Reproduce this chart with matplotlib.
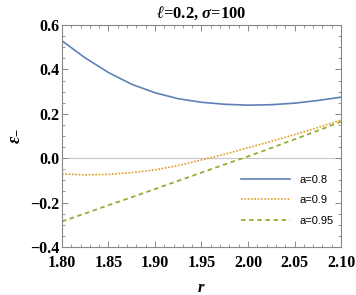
import matplotlib
matplotlib.use("Agg")
import matplotlib.pyplot as plt
from matplotlib.ticker import MultipleLocator, FormatStrFormatter

r = [1.80, 1.825, 1.85, 1.875, 1.90, 1.925, 1.95, 1.975, 2.00, 2.025, 2.05, 2.075, 2.10]
eps_a08 = [0.529, 0.452, 0.386, 0.333, 0.295, 0.268, 0.252, 0.243, 0.239, 0.241, 0.248, 0.260, 0.275]
eps_a09 = [-0.071, -0.075, -0.073, -0.065, -0.053, -0.033, -0.008, 0.018, 0.047, 0.076, 0.106, 0.138, 0.172]
eps_a095 = [-0.285, -0.249, -0.212, -0.176, -0.139, -0.102, -0.065, -0.028, 0.008, 0.046, 0.085, 0.124, 0.165]
labels = ["a=0.8", "a=0.9", "a=0.95"]

plt.rcParams['mathtext.fontset'] = 'custom'
plt.rcParams['mathtext.rm'] = 'Liberation Serif:bold'
plt.rcParams['mathtext.it'] = 'Liberation Serif:italic:bold'
plt.rcParams['mathtext.bf'] = 'Liberation Serif:bold'

fig = plt.figure(figsize=(3.56, 2.95), dpi=100)
ax = fig.add_axes([0.174, 0.163, 0.784, 0.752])

ax.axhline(0, color='#c8c8c8', lw=0.8, zorder=1)
ax.plot(r, eps_a08, color='#5E81B5', lw=1.2, label=labels[0])
ax.plot(r, eps_a09, color='#E19C24', lw=1.2, ls=(0, (1, 1)), label=labels[1])
ax.plot(r, eps_a095, color='#8FB032', lw=1.3, ls=(0, (2.5, 2)), label=labels[2])

ax.set_xlim(1.80, 2.10)
ax.set_ylim(-0.4, 0.6)
ax.xaxis.set_major_locator(MultipleLocator(0.05))
ax.xaxis.set_minor_locator(MultipleLocator(0.01))
ax.yaxis.set_major_locator(MultipleLocator(0.2))
ax.yaxis.set_minor_locator(MultipleLocator(0.05))
ax.xaxis.set_major_formatter(FormatStrFormatter('%.2f'))
ax.yaxis.set_major_formatter(FormatStrFormatter('%.1f'))
ax.tick_params(which='both', direction='in', top=True, right=True, color='#888888')
ax.tick_params(which='major', length=4, width=0.7)
ax.tick_params(axis='x', which='major', pad=6)
ax.tick_params(axis='y', which='major', pad=2)
ax.tick_params(which='minor', length=2, width=0.6)
for s in ax.spines.values():
    s.set_color('#888888')
    s.set_linewidth(0.8)
ax.set_yticklabels([t.get_text().replace('-', '\u2212') for t in ax.get_yticklabels()])
for lab in ax.get_xticklabels() + ax.get_yticklabels():
    lab.set_fontfamily('Liberation Serif')
    lab.set_fontweight('bold')
    lab.set_fontsize(11.5)

ax.set_title(r'$\ell$=0.2, $\sigma$=100', fontfamily='Liberation Serif', fontweight='bold', fontsize=12, pad=5)
ax.set_xlabel(r'$r$', fontsize=12, labelpad=5)
ax.set_ylabel(r'$\varepsilon_{-}$', fontsize=13, labelpad=6)

leg = ax.legend(loc='lower right', frameon=False, prop={'family': 'Liberation Sans', 'size': 8},
                handlelength=4.4, labelspacing=0.95, bbox_to_anchor=(1.0, 0.06), borderaxespad=0.3)

fig.savefig('out.png', dpi=100)
